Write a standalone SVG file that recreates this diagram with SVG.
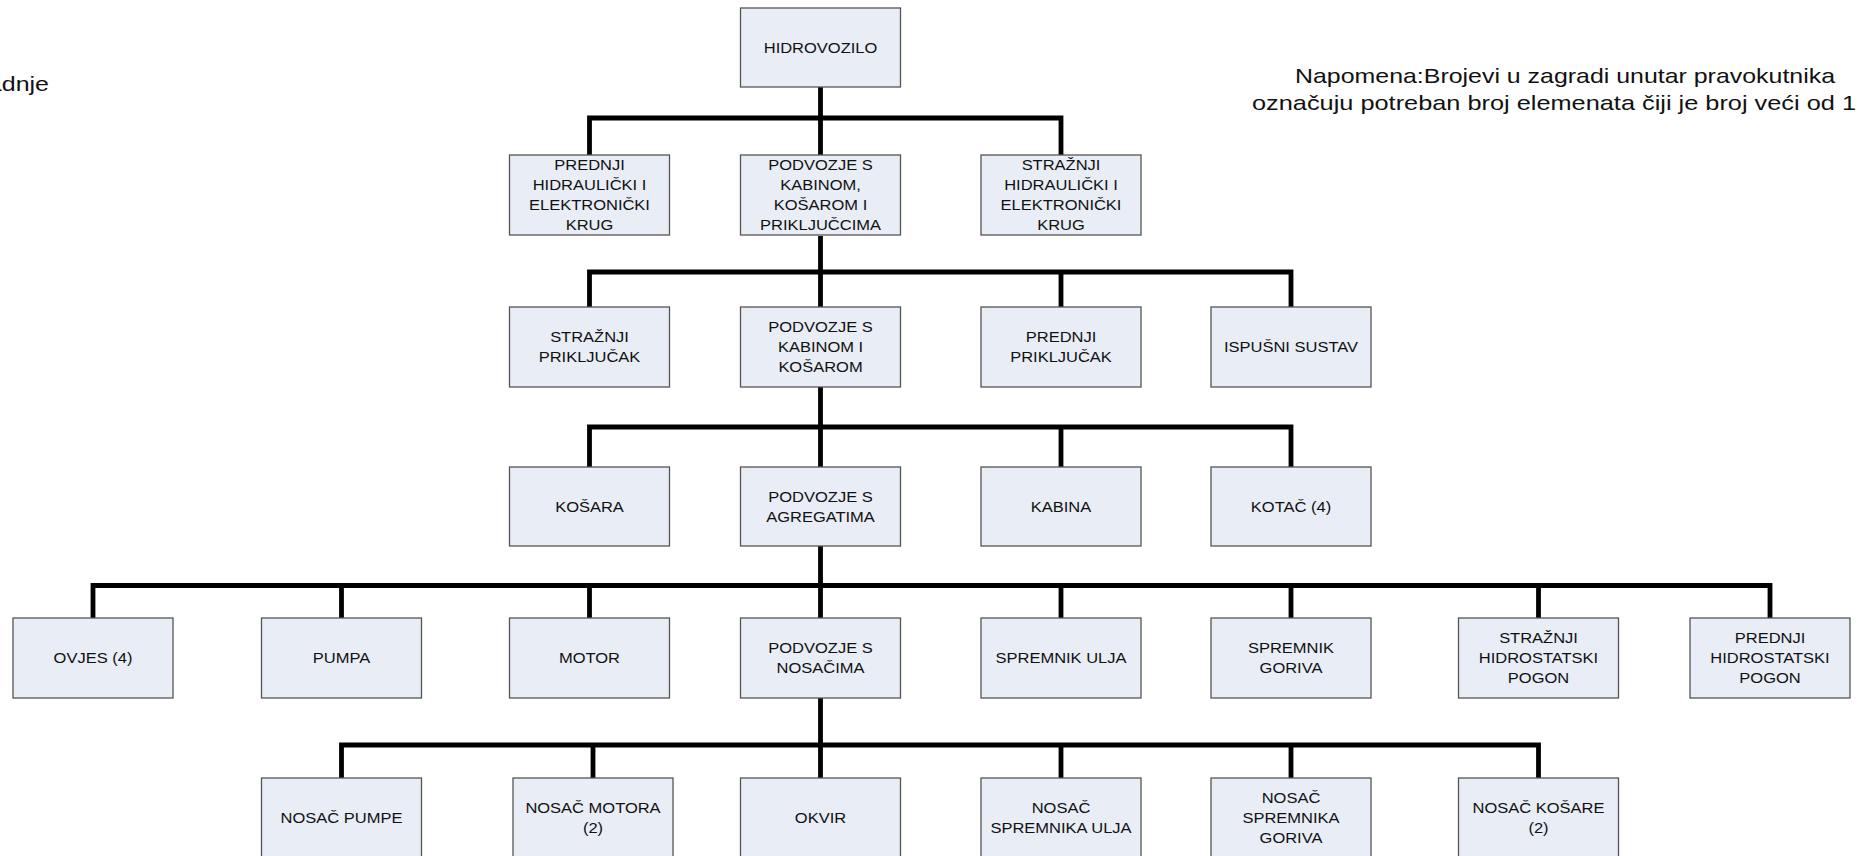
<svg xmlns="http://www.w3.org/2000/svg" width="1858" height="856" viewBox="0 0 1858 856">
<style>
.bx{fill:#e8edf6;stroke:#555;stroke-width:1.3}
.t{font-family:"Liberation Sans",Arial,sans-serif;font-size:15px;fill:#111;text-anchor:middle}
.n{font-family:"Liberation Sans",Arial,sans-serif;font-size:21px;fill:#111}
.c{fill:none;stroke:#000;stroke-width:4.8;stroke-linejoin:miter}
</style>
<rect width="1858" height="856" fill="#fff"/>
<text class="n" transform="matrix(1.19 0 0 1 49 0)" y="91" text-anchor="end">adnje</text>
<g id="note">
<text class="n" x="1295" y="83" textLength="540" lengthAdjust="spacingAndGlyphs">Napomena:Brojevi u zagradi unutar pravokutnika</text>
<text class="n" x="1252" y="110" textLength="604" lengthAdjust="spacingAndGlyphs">označuju potreban broj elemenata čiji je broj veći od 1</text>
</g>
<g id="connectors">
<path class="c" d="M820.5 87 V155 M589.5 155 V118 H1061 V155"/>
<path class="c" d="M820.5 236 V307 M589.5 307 V272 H1291 V307 M1061 272 V307"/>
<path class="c" d="M820.5 387 V467 M589.5 467 V427 H1291 V467 M1061 427 V467"/>
<path class="c" d="M820.5 546 V618 M93 618 V585.5 H1770 V618 M341.5 585.5 V618 M589.5 585.5 V618 M1061 585.5 V618 M1291 585.5 V618 M1538.5 585.5 V618"/>
<path class="c" d="M820.5 698 V778 M341.5 778 V745 H1538.5 V778 M593 745 V778 M1061 745 V778 M1291 745 V778"/>
</g>
<g id="hidrovozilo"><rect class="bx" x="740.5" y="8" width="160" height="79"/><text class="t" transform="matrix(1.1 0 0 1 820.5 0)"><tspan x="0" y="53">HIDROVOZILO</tspan></text></g>
<g id="prednji-krug"><rect class="bx" x="509.5" y="155" width="160" height="80"/><text class="t" transform="matrix(1.1 0 0 1 589.5 0)"><tspan x="0" y="170.5">PREDNJI</tspan><tspan x="0" y="190.5">HIDRAULIČKI I</tspan><tspan x="0" y="210.5">ELEKTRONIČKI</tspan><tspan x="0" y="230.5">KRUG</tspan></text></g>
<g id="podvozje-prikljucci"><rect class="bx" x="740.5" y="155" width="160" height="80"/><text class="t" transform="matrix(1.1 0 0 1 820.5 0)"><tspan x="0" y="170.5">PODVOZJE S</tspan><tspan x="0" y="190.5">KABINOM,</tspan><tspan x="0" y="210.5">KOŠAROM I</tspan><tspan x="0" y="230.5">PRIKLJUČCIMA</tspan></text></g>
<g id="straznji-krug"><rect class="bx" x="981" y="155" width="160" height="80"/><text class="t" transform="matrix(1.1 0 0 1 1061 0)"><tspan x="0" y="170.5">STRAŽNJI</tspan><tspan x="0" y="190.5">HIDRAULIČKI I</tspan><tspan x="0" y="210.5">ELEKTRONIČKI</tspan><tspan x="0" y="230.5">KRUG</tspan></text></g>
<g id="straznji-prikljucak"><rect class="bx" x="509.5" y="307" width="160" height="80"/><text class="t" transform="matrix(1.1 0 0 1 589.5 0)"><tspan x="0" y="342.5">STRAŽNJI</tspan><tspan x="0" y="362.5">PRIKLJUČAK</tspan></text></g>
<g id="podvozje-kabina-kosara"><rect class="bx" x="740.5" y="307" width="160" height="80"/><text class="t" transform="matrix(1.1 0 0 1 820.5 0)"><tspan x="0" y="332.5">PODVOZJE S</tspan><tspan x="0" y="352.5">KABINOM I</tspan><tspan x="0" y="372.5">KOŠAROM</tspan></text></g>
<g id="prednji-prikljucak"><rect class="bx" x="981" y="307" width="160" height="80"/><text class="t" transform="matrix(1.1 0 0 1 1061 0)"><tspan x="0" y="342.5">PREDNJI</tspan><tspan x="0" y="362.5">PRIKLJUČAK</tspan></text></g>
<g id="ispusni-sustav"><rect class="bx" x="1211" y="307" width="160" height="80"/><text class="t" transform="matrix(1.1 0 0 1 1291 0)"><tspan x="0" y="352.5">ISPUŠNI SUSTAV</tspan></text></g>
<g id="kosara"><rect class="bx" x="509.5" y="467" width="160" height="79"/><text class="t" transform="matrix(1.1 0 0 1 589.5 0)"><tspan x="0" y="512">KOŠARA</tspan></text></g>
<g id="podvozje-agregati"><rect class="bx" x="740.5" y="467" width="160" height="79"/><text class="t" transform="matrix(1.1 0 0 1 820.5 0)"><tspan x="0" y="502">PODVOZJE S</tspan><tspan x="0" y="522">AGREGATIMA</tspan></text></g>
<g id="kabina"><rect class="bx" x="981" y="467" width="160" height="79"/><text class="t" transform="matrix(1.1 0 0 1 1061 0)"><tspan x="0" y="512">KABINA</tspan></text></g>
<g id="kotac"><rect class="bx" x="1211" y="467" width="160" height="79"/><text class="t" transform="matrix(1.1 0 0 1 1291 0)"><tspan x="0" y="512">KOTAČ (4)</tspan></text></g>
<g id="ovjes"><rect class="bx" x="13" y="618" width="160" height="80"/><text class="t" transform="matrix(1.1 0 0 1 93 0)"><tspan x="0" y="663.5">OVJES (4)</tspan></text></g>
<g id="pumpa"><rect class="bx" x="261.5" y="618" width="160" height="80"/><text class="t" transform="matrix(1.1 0 0 1 341.5 0)"><tspan x="0" y="663.5">PUMPA</tspan></text></g>
<g id="motor"><rect class="bx" x="509.5" y="618" width="160" height="80"/><text class="t" transform="matrix(1.1 0 0 1 589.5 0)"><tspan x="0" y="663.5">MOTOR</tspan></text></g>
<g id="podvozje-nosaci"><rect class="bx" x="740.5" y="618" width="160" height="80"/><text class="t" transform="matrix(1.1 0 0 1 820.5 0)"><tspan x="0" y="653.5">PODVOZJE S</tspan><tspan x="0" y="673.5">NOSAČIMA</tspan></text></g>
<g id="spremnik-ulja"><rect class="bx" x="981" y="618" width="160" height="80"/><text class="t" transform="matrix(1.1 0 0 1 1061 0)"><tspan x="0" y="663.5">SPREMNIK ULJA</tspan></text></g>
<g id="spremnik-goriva"><rect class="bx" x="1211" y="618" width="160" height="80"/><text class="t" transform="matrix(1.1 0 0 1 1291 0)"><tspan x="0" y="653.5">SPREMNIK</tspan><tspan x="0" y="673.5">GORIVA</tspan></text></g>
<g id="straznji-pogon"><rect class="bx" x="1458.5" y="618" width="160" height="80"/><text class="t" transform="matrix(1.1 0 0 1 1538.5 0)"><tspan x="0" y="643.5">STRAŽNJI</tspan><tspan x="0" y="663.5">HIDROSTATSKI</tspan><tspan x="0" y="683.5">POGON</tspan></text></g>
<g id="prednji-pogon"><rect class="bx" x="1690" y="618" width="160" height="80"/><text class="t" transform="matrix(1.1 0 0 1 1770 0)"><tspan x="0" y="643.5">PREDNJI</tspan><tspan x="0" y="663.5">HIDROSTATSKI</tspan><tspan x="0" y="683.5">POGON</tspan></text></g>
<g id="nosac-pumpe"><rect class="bx" x="261.5" y="778" width="160" height="80"/><text class="t" transform="matrix(1.1 0 0 1 341.5 0)"><tspan x="0" y="823.5">NOSAČ PUMPE</tspan></text></g>
<g id="nosac-motora"><rect class="bx" x="513" y="778" width="160" height="80"/><text class="t" transform="matrix(1.1 0 0 1 593 0)"><tspan x="0" y="813.5">NOSAČ MOTORA</tspan><tspan x="0" y="833.5">(2)</tspan></text></g>
<g id="okvir"><rect class="bx" x="740.5" y="778" width="160" height="80"/><text class="t" transform="matrix(1.1 0 0 1 820.5 0)"><tspan x="0" y="823.5">OKVIR</tspan></text></g>
<g id="nosac-spremnika-ulja"><rect class="bx" x="981" y="778" width="160" height="80"/><text class="t" transform="matrix(1.1 0 0 1 1061 0)"><tspan x="0" y="813.5">NOSAČ</tspan><tspan x="0" y="833.5">SPREMNIKA ULJA</tspan></text></g>
<g id="nosac-spremnika-goriva"><rect class="bx" x="1211" y="778" width="160" height="80"/><text class="t" transform="matrix(1.1 0 0 1 1291 0)"><tspan x="0" y="803.5">NOSAČ</tspan><tspan x="0" y="823.5">SPREMNIKA</tspan><tspan x="0" y="843.5">GORIVA</tspan></text></g>
<g id="nosac-kosare"><rect class="bx" x="1458.5" y="778" width="160" height="80"/><text class="t" transform="matrix(1.1 0 0 1 1538.5 0)"><tspan x="0" y="813.5">NOSAČ KOŠARE</tspan><tspan x="0" y="833.5">(2)</tspan></text></g>
</svg>
